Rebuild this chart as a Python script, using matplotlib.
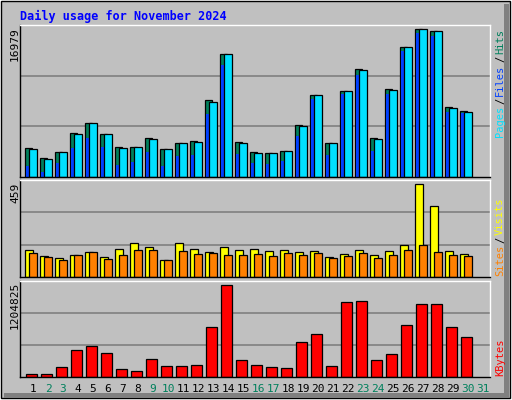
import matplotlib
matplotlib.use("Agg")
import matplotlib.pyplot as plt
from matplotlib.patches import Rectangle

days = list(range(1, 32))
weekend = [2, 3, 9, 10, 16, 17, 23, 24, 30, 31]
hits = [3280, 2230, 2930, 5020, 6180, 4900, 3400, 3400, 4440, 3170, 3860, 4090, 8840, 14190, 3980, 2930, 2810, 3040, 5950, 9460, 3860, 9920, 12430, 4440, 10150, 14960, 16980, 16750, 8100, 7640]
files = [1230, 620, 1620, 3280, 4520, 3470, 1400, 1700, 2840, 1310, 2470, 2500, 7200, 12900, 2630, 1650, 1460, 1830, 4770, 8960, 2500, 9570, 11760, 2980, 9570, 14500, 16600, 16250, 7470, 7400]
pages = [3170, 2120, 2820, 4900, 6180, 4900, 3280, 3400, 4320, 3170, 3860, 3980, 8600, 14190, 3860, 2810, 2810, 3040, 5830, 9460, 3860, 9920, 12310, 4320, 10030, 14960, 16980, 16750, 7990, 7520]
visits = [136, 106, 96, 111, 126, 101, 141, 166, 151, 86, 166, 141, 126, 151, 136, 141, 131, 136, 126, 131, 101, 116, 136, 111, 131, 161, 459, 354, 131, 116]
sites = [121, 101, 86, 111, 126, 91, 111, 136, 136, 86, 131, 116, 121, 111, 111, 116, 106, 121, 111, 121, 96, 106, 121, 96, 111, 136, 161, 126, 111, 106]
kbytes = [43980, 43980, 136320, 347400, 400170, 307830, 109940, 83560, 228680, 149530, 149530, 162720, 650810, 1204825, 215490, 162720, 136320, 123130, 453000, 558530, 149530, 980550, 993740, 215490, 294640, 677190, 954160, 954160, 650810, 518960]
tick_labels = [str(d) for d in days]

BG = "#C0C0C0"
fig = plt.figure(figsize=(5.12, 4.0), dpi=100, facecolor="white")
W, H = 512, 400
def fx(x): return x / W
def fy(y): return 1 - y / H

fig.patches.append(Rectangle((fx(1), fy(398)), fx(510) - fx(1), fy(1) - fy(398), transform=fig.transFigure,
                             facecolor=BG, edgecolor="#000000", lw=1, zorder=-5))
fig.patches.append(Rectangle((fx(504), fy(398)), fx(509)-fx(504), fy(4)-fy(398), transform=fig.transFigure,
                             facecolor="#808080", edgecolor="none", zorder=-4))
fig.patches.append(Rectangle((fx(4), fy(398)), fx(509)-fx(4), fy(393)-fy(398), transform=fig.transFigure,
                             facecolor="#808080", edgecolor="none", zorder=-4))

def panel(y0, y1):
    ax = fig.add_axes([fx(20), fy(y1), fx(490) - fx(20), fy(y0) - fy(y1)])
    ax.set_facecolor(BG)
    ax.set_xlim(0, 470 / 15)
    ax.set_xticks([]); ax.set_yticks([])
    for s in ax.spines.values():
        s.set_color("black"); s.set_linewidth(1)
    ax.spines["top"].set_color("white"); ax.spines["right"].set_color("white")
    return ax

def grid(ax, top):
    for f in (1/3, 2/3):
        ax.axhline(top * f, color="#808080", lw=1.2, zorder=0)

xs = [d - 1 for d in days[:30]]
kw = dict(align="edge", edgecolor="black", linewidth=0.9)

ax1 = panel(25, 177)
top1 = 16979 * 455 / 442
ax1.set_ylim(0, top1); grid(ax1, top1)
ax1.bar([x + 0.33 for x in xs], hits, width=0.5, color="#00805C", **kw)
ax1.bar([x + 0.43 for x in xs], files, width=0.5, color="#0040FF", edgecolor="none", align="edge")
ax1.bar([x + 0.6 for x in xs], pages, width=0.5, color="#00E0FF", **kw)

ax2 = panel(180, 277)
top2 = 459 * 290 / 277
ax2.set_ylim(0, top2); grid(ax2, top2)
ax2.bar([x + 0.33 for x in xs], visits, width=0.55, color="#FFFF00", **kw)
ax2.bar([x + 0.6 for x in xs], sites, width=0.55, color="#FF8000", **kw)

ax3 = panel(281, 377)
top3 = 1204825 * 285 / 274
ax3.set_ylim(0, top3); grid(ax3, top3)
ax3.bar([x + 0.4 for x in xs], kbytes, width=0.7, color="#FF0000", **kw)

mono = "DejaVu Sans Mono"
fig.text(fx(20), fy(16), "Daily usage for November 2024", color="#0000FF", fontsize=8.5,
         fontweight="bold", family=mono, va="center")
fig.text(fx(15), fy(27), "16979", rotation=90, fontsize=8, family=mono, ha="center", va="top")
fig.text(fx(15), fy(183), "459", rotation=90, fontsize=8, family=mono, ha="center", va="top")
fig.text(fx(15), fy(282), "1204825", rotation=90, fontsize=8, family=mono, ha="center", va="top")

renderer = fig.canvas.get_renderer()
def rlabel(y_bottom, parts):
    y = y_bottom
    for txt, col in parts:
        t = fig.text(fx(500), fy(y), txt, rotation=90, fontsize=7.5, family=mono, color=col,
                     ha="center", va="bottom")
        h = t.get_window_extent(renderer).height
        y -= h + 2
rlabel(137, [("Pages", "#00E0FF"), ("/", "black"), ("Files", "#0040FF"), ("/", "black"), ("Hits", "#00805C")])
rlabel(276, [("Sites", "#FF8000"), ("/", "black"), ("Visits", "#FFFF00")])
rlabel(376, [("KBytes", "#FF0000")])

for d, lab in zip(days, tick_labels):
    fig.text(fx(20 + (d - 1) * 15 + 13), fy(389), lab, fontsize=8, family=mono,
             color="#00805C" if d in weekend else "black", ha="center", va="center")

fig.savefig("out.png", dpi=100, facecolor="white")
